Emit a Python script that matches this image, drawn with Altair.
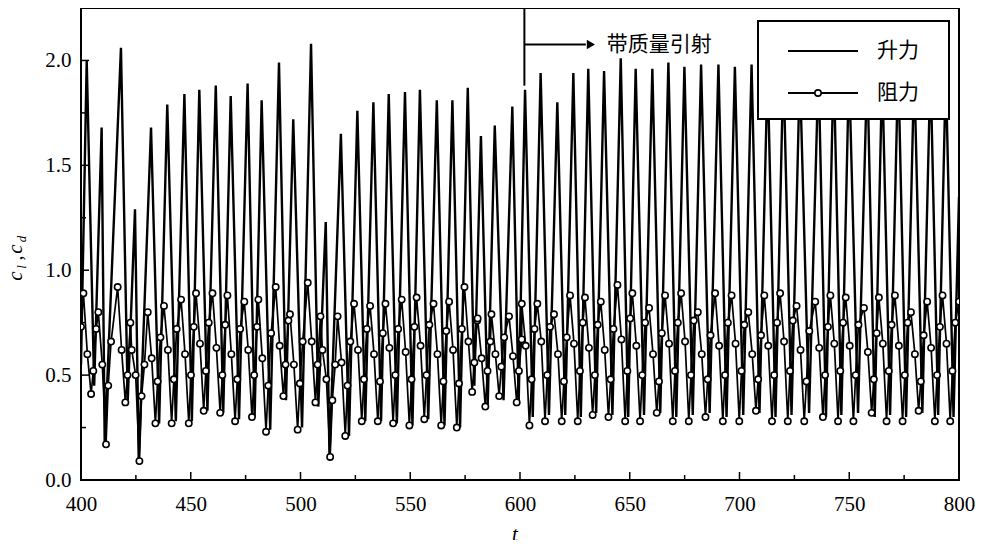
import altair as alt
import pandas as pd

# ---------------- data ----------------
lift_peak_t = [402.6, 409.4, 418.2, 424.6, 431.9, 439.3, 447.1, 453.9, 461.4, 468.2,
               475.9, 482.3, 490.2, 496.7, 504.8, 511.5, 518.4, 525.9, 533.2, 540.2,
               547.6, 554.4, 562.1, 569.2, 576.2, 582.2, 588.5, 596.5, 602.3, 609.4,
               617.0, 624.3, 631.1, 638.3, 645.9, 652.7, 660.3, 667.6, 674.9, 682.5,
               690.4, 697.9, 705.5, 712.8, 720.0, 727.5, 736.0, 742.9, 749.9, 758.2,
               765.0, 772.3, 779.6, 787.0, 794.0]
lift_peak_v = [2.00, 1.68, 2.06, 1.29, 1.68, 1.79, 1.84, 1.86, 1.88, 1.83,
               1.89, 1.81, 1.99, 1.72, 2.08, 1.23, 1.65, 1.76, 1.80, 1.84,
               1.85, 1.86, 1.81, 1.81, 1.87, 1.64, 1.69, 1.78, 1.86, 1.94,
               1.80, 1.94, 1.96, 1.95, 2.01, 1.96, 1.96, 1.99, 1.97, 1.98,
               1.98, 1.97, 1.98, 1.96, 1.98, 1.95, 1.97, 1.99, 1.96, 1.97,
               1.95, 1.98, 1.96, 1.97, 1.95]
lift_trough_t = [406.0, 410.8, 421.3, 426.3, 435.6, 443.2, 450.5, 457.6, 464.8, 472.0,
                 479.1, 486.2, 493.4, 500.7, 508.1, 513.2, 522.1, 529.5, 536.7, 543.9,
                 551.0, 558.2, 565.6, 572.7, 579.2, 585.3, 592.5, 599.4, 605.8, 613.2,
                 620.6, 627.7, 634.7, 642.1, 649.3, 656.5, 663.9, 671.2, 678.7, 686.4,
                 694.1, 701.7, 709.1, 716.4, 723.7, 731.7, 739.4, 746.4, 754.0, 761.6,
                 768.6, 775.9, 783.3, 790.5, 797.5]
lift_trough_v = [0.45, 0.17, 0.38, 0.09, 0.27, 0.28, 0.28, 0.33, 0.32, 0.29,
                 0.30, 0.24, 0.38, 0.25, 0.35, 0.11, 0.21, 0.28, 0.28, 0.27,
                 0.26, 0.29, 0.26, 0.25, 0.45, 0.36, 0.38, 0.37, 0.30, 0.31,
                 0.31, 0.30, 0.32, 0.31, 0.30, 0.31, 0.32, 0.30, 0.31, 0.32,
                 0.30, 0.31, 0.32, 0.30, 0.31, 0.32, 0.30, 0.31, 0.32, 0.30,
                 0.31, 0.30, 0.32, 0.31, 0.30]
lift_edge_t = [400.0, 800.0]
lift_edge_v = [0.55, 1.35]

# drag: per lift cycle, values at five phases of the cycle
drag_phase = [-1.5, 0.3, 2.0, 3.0, 4.3]
drag_hi_v = [0.89, 0.80, 0.92, 0.62, 0.80, 0.83, 0.86, 0.89, 0.89, 0.88,
             0.85, 0.86, 0.92, 0.79, 0.94, 0.62, 0.78, 0.84, 0.83, 0.84,
             0.86, 0.87, 0.84, 0.85, 0.92, 0.77, 0.79, 0.78, 0.84, 0.84,
             0.79, 0.88, 0.87, 0.85, 0.93, 0.89, 0.82, 0.88, 0.89, 0.80,
             0.89, 0.88, 0.80, 0.88, 0.89, 0.83, 0.85, 0.88, 0.87, 0.82,
             0.87, 0.88, 0.80, 0.85, 0.88]
drag_fall_v = [0.60, 0.55, 0.62, 0.50, 0.58, 0.62, 0.60, 0.65, 0.63, 0.60,
               0.62, 0.58, 0.64, 0.55, 0.66, 0.48, 0.56, 0.62, 0.60, 0.63,
               0.61, 0.64, 0.60, 0.62, 0.66, 0.58, 0.60, 0.59, 0.64, 0.66,
               0.60, 0.65, 0.63, 0.62, 0.67, 0.64, 0.60, 0.65, 0.66, 0.60,
               0.64, 0.65, 0.60, 0.64, 0.66, 0.62, 0.63, 0.65, 0.64, 0.61,
               0.65, 0.64, 0.60, 0.63, 0.65]
drag_lo_v = [0.41, 0.17, 0.37, 0.09, 0.27, 0.27, 0.27, 0.33, 0.32, 0.28,
             0.30, 0.23, 0.40, 0.24, 0.37, 0.11, 0.21, 0.28, 0.28, 0.27,
             0.26, 0.29, 0.26, 0.25, 0.42, 0.35, 0.40, 0.37, 0.26, 0.28,
             0.28, 0.28, 0.31, 0.30, 0.28, 0.28, 0.32, 0.28, 0.28, 0.30,
             0.28, 0.28, 0.33, 0.28, 0.28, 0.28, 0.30, 0.28, 0.28, 0.32,
             0.28, 0.28, 0.33, 0.28, 0.28]
drag_rise1_v = [0.52, 0.45, 0.50, 0.40, 0.47, 0.48, 0.50, 0.52, 0.50, 0.48,
                0.50, 0.45, 0.55, 0.46, 0.55, 0.38, 0.45, 0.48, 0.47, 0.50,
                0.48, 0.50, 0.47, 0.46, 0.56, 0.52, 0.54, 0.52, 0.48, 0.50,
                0.47, 0.52, 0.50, 0.48, 0.52, 0.50, 0.47, 0.52, 0.50, 0.48,
                0.50, 0.52, 0.48, 0.50, 0.52, 0.47, 0.50, 0.52, 0.50, 0.48,
                0.52, 0.50, 0.47, 0.50, 0.52]
drag_rise2_v = [0.72, 0.66, 0.75, 0.55, 0.68, 0.72, 0.73, 0.75, 0.74, 0.72,
                0.73, 0.70, 0.76, 0.66, 0.78, 0.55, 0.66, 0.72, 0.70, 0.72,
                0.73, 0.74, 0.71, 0.72, 0.76, 0.66, 0.68, 0.67, 0.72, 0.73,
                0.68, 0.75, 0.74, 0.72, 0.77, 0.75, 0.70, 0.75, 0.76, 0.69,
                0.75, 0.74, 0.69, 0.75, 0.76, 0.71, 0.73, 0.75, 0.74, 0.70,
                0.74, 0.75, 0.69, 0.73, 0.75]
drag_edge_t = [400.0, 800.0]
drag_edge_v = [0.73, 0.85]

x_major = [400, 450, 500, 550, 600, 650, 700, 750, 800]
x_minor = [425, 475, 525, 575, 625, 675, 725, 775]
y_major = [0.0, 0.5, 1.0, 1.5, 2.0]
y_minor = [0.25, 0.75, 1.25, 1.75]

mark_t = 602.0
annot_text = "带质量引射"
legend_labels = ["升力", "阻力"]

# ---------------- tables ----------------
lift_rows = [(lift_edge_t[0], lift_edge_v[0])]
lift_rows += list(zip(lift_peak_t, lift_peak_v))
lift_rows += list(zip(lift_trough_t, lift_trough_v))
lift_rows += [(lift_edge_t[1], lift_edge_v[1])]
lift_df = pd.DataFrame(lift_rows, columns=["t", "v"]).sort_values("t")

drag_rows = [(drag_edge_t[0], drag_edge_v[0])]
for k, tp in enumerate(lift_peak_t):
    vals = [drag_hi_v[k], drag_fall_v[k], drag_lo_v[k], drag_rise1_v[k], drag_rise2_v[k]]
    for ph, v in zip(drag_phase, vals):
        drag_rows.append((tp + ph, v))
drag_rows.append((drag_edge_t[1], drag_edge_v[1]))
drag_df = pd.DataFrame(drag_rows, columns=["t", "v"]).sort_values("t")

W, H = 878, 472
SERIF = "Liberation Serif"
CJK = "Noto Sans CJK SC"

xs = alt.Scale(domain=[400, 800], nice=False, zero=False)
ys = alt.Scale(domain=[0, 2.25], nice=False, zero=False)

x_axis = alt.Axis(values=x_major, format="d", ticks=False, domain=False, grid=False,
                  labelFont=SERIF, labelFontSize=21, labelPadding=13, labelColor="black",
                  labelFlush=False, labelOverlap=False, title=None)
y_axis = alt.Axis(values=y_major, format=".1f", ticks=False, domain=False, grid=False,
                  labelFont=SERIF, labelFontSize=21, labelPadding=10, labelColor="black",
                  labelFlush=False, labelOverlap=False, title=None)

X = alt.X("t:Q", scale=xs, axis=x_axis)
Y = alt.Y("v:Q", scale=ys, axis=y_axis)

lift = alt.Chart(lift_df).mark_line(color="black", strokeWidth=2.4, clip=True).encode(x=X, y=Y)
drag_line = alt.Chart(drag_df).mark_line(color="black", strokeWidth=1.7, clip=True).encode(x=X, y=Y)
drag_pts = alt.Chart(drag_df).mark_point(shape="circle", filled=True, fill="white",
                                          stroke="black", strokeWidth=1.6, size=40,
                                          opacity=1, clip=True).encode(x=X, y=Y)

one = pd.DataFrame({"a": [0]})

def xticks(vals, length):
    return alt.Chart(pd.DataFrame({"t": vals})).mark_rule(color="black", strokeWidth=1.5).encode(
        x=X, y=alt.value(H), y2=alt.value(H - length))

def yticks(vals, length):
    return alt.Chart(pd.DataFrame({"v": vals})).mark_rule(color="black", strokeWidth=1.5).encode(
        y=Y, x=alt.value(0), x2=alt.value(length))

ticks = [xticks(x_major, 8), xticks(x_minor, 5), yticks(y_major, 8), yticks(y_minor, 5)]

# annotation: injection marker
vline = alt.Chart(pd.DataFrame({"t": [mark_t], "v": [2.25], "v2": [1.88]})).mark_rule(
    color="black", strokeWidth=2).encode(x=X, y=Y, y2="v2:Q")
hline = alt.Chart(pd.DataFrame({"t": [mark_t], "t2": [630.0], "v": [2.076]})).mark_rule(
    color="black", strokeWidth=2).encode(x=X, x2="t2:Q", y=Y)
head = alt.Chart(pd.DataFrame({"t": [632.3], "v": [2.076]})).mark_point(
    shape="triangle-right", filled=True, color="black", size=90, opacity=1).encode(x=X, y=Y)
atext = alt.Chart(pd.DataFrame({"t": [639.5], "v": [2.076], "s": [annot_text]})).mark_text(
    align="left", baseline="middle", font=CJK, fontSize=21, color="black").encode(
    x=X, y=Y, text="s:N")

# legend drawn by hand
lg_box = alt.Chart(one).mark_rect(fill="white", stroke="black", strokeWidth=2).encode(
    x=alt.value(677), x2=alt.value(868), y=alt.value(13), y2=alt.value(111))
lg_l1 = alt.Chart(one).mark_rule(color="black", strokeWidth=2).encode(
    x=alt.value(707), x2=alt.value(777), y=alt.value(43))
lg_l2 = alt.Chart(one).mark_rule(color="black", strokeWidth=2).encode(
    x=alt.value(707), x2=alt.value(777), y=alt.value(85))
lg_pt = alt.Chart(one).mark_point(shape="circle", filled=True, fill="white", stroke="black",
                                  strokeWidth=1.6, size=40, opacity=1).encode(
    x=alt.value(737), y=alt.value(85))
lg_t1 = alt.Chart(one).mark_text(align="left", baseline="middle", font=CJK, fontSize=21,
                                 color="black", text=legend_labels[0]).encode(
    x=alt.value(796), y=alt.value(43))
lg_t2 = alt.Chart(one).mark_text(align="left", baseline="middle", font=CJK, fontSize=21,
                                 color="black", text=legend_labels[1]).encode(
    x=alt.value(796), y=alt.value(85))

# axis titles
def txt(s, x, y, size, angle=0, baseline="middle"):
    return alt.Chart(one).mark_text(text=s, font=SERIF, fontStyle="italic", fontSize=size,
                                    color="black", angle=angle, align="center",
                                    baseline=baseline).encode(x=alt.value(x), y=alt.value(y))

ytitle = [
    txt("c", -59, 268, 21, 270, "alphabetic"),
    txt("l", -55, 259, 13, 270, "alphabetic"),
    txt(",", -59, 250, 20, 270, "alphabetic"),
    txt("c", -59, 241, 21, 270, "alphabetic"),
    txt("d", -55, 231, 13, 270, "alphabetic"),
]
xtitle = txt("t", 434, 527, 21)

chart = alt.layer(
    lift, drag_line, drag_pts, *ticks, vline, hline, head, atext,
    lg_box, lg_l1, lg_l2, lg_pt, lg_t1, lg_t2, *ytitle, xtitle,
).properties(
    width=W, height=H,
    autosize=alt.AutoSizeParams(type="none"),
    padding={"left": 73, "top": 0, "right": 20, "bottom": 60},
    background="white",
).configure_view(stroke="black", strokeWidth=2)

chart.save("out.html", embed_options={"renderer": "svg", "actions": False})
